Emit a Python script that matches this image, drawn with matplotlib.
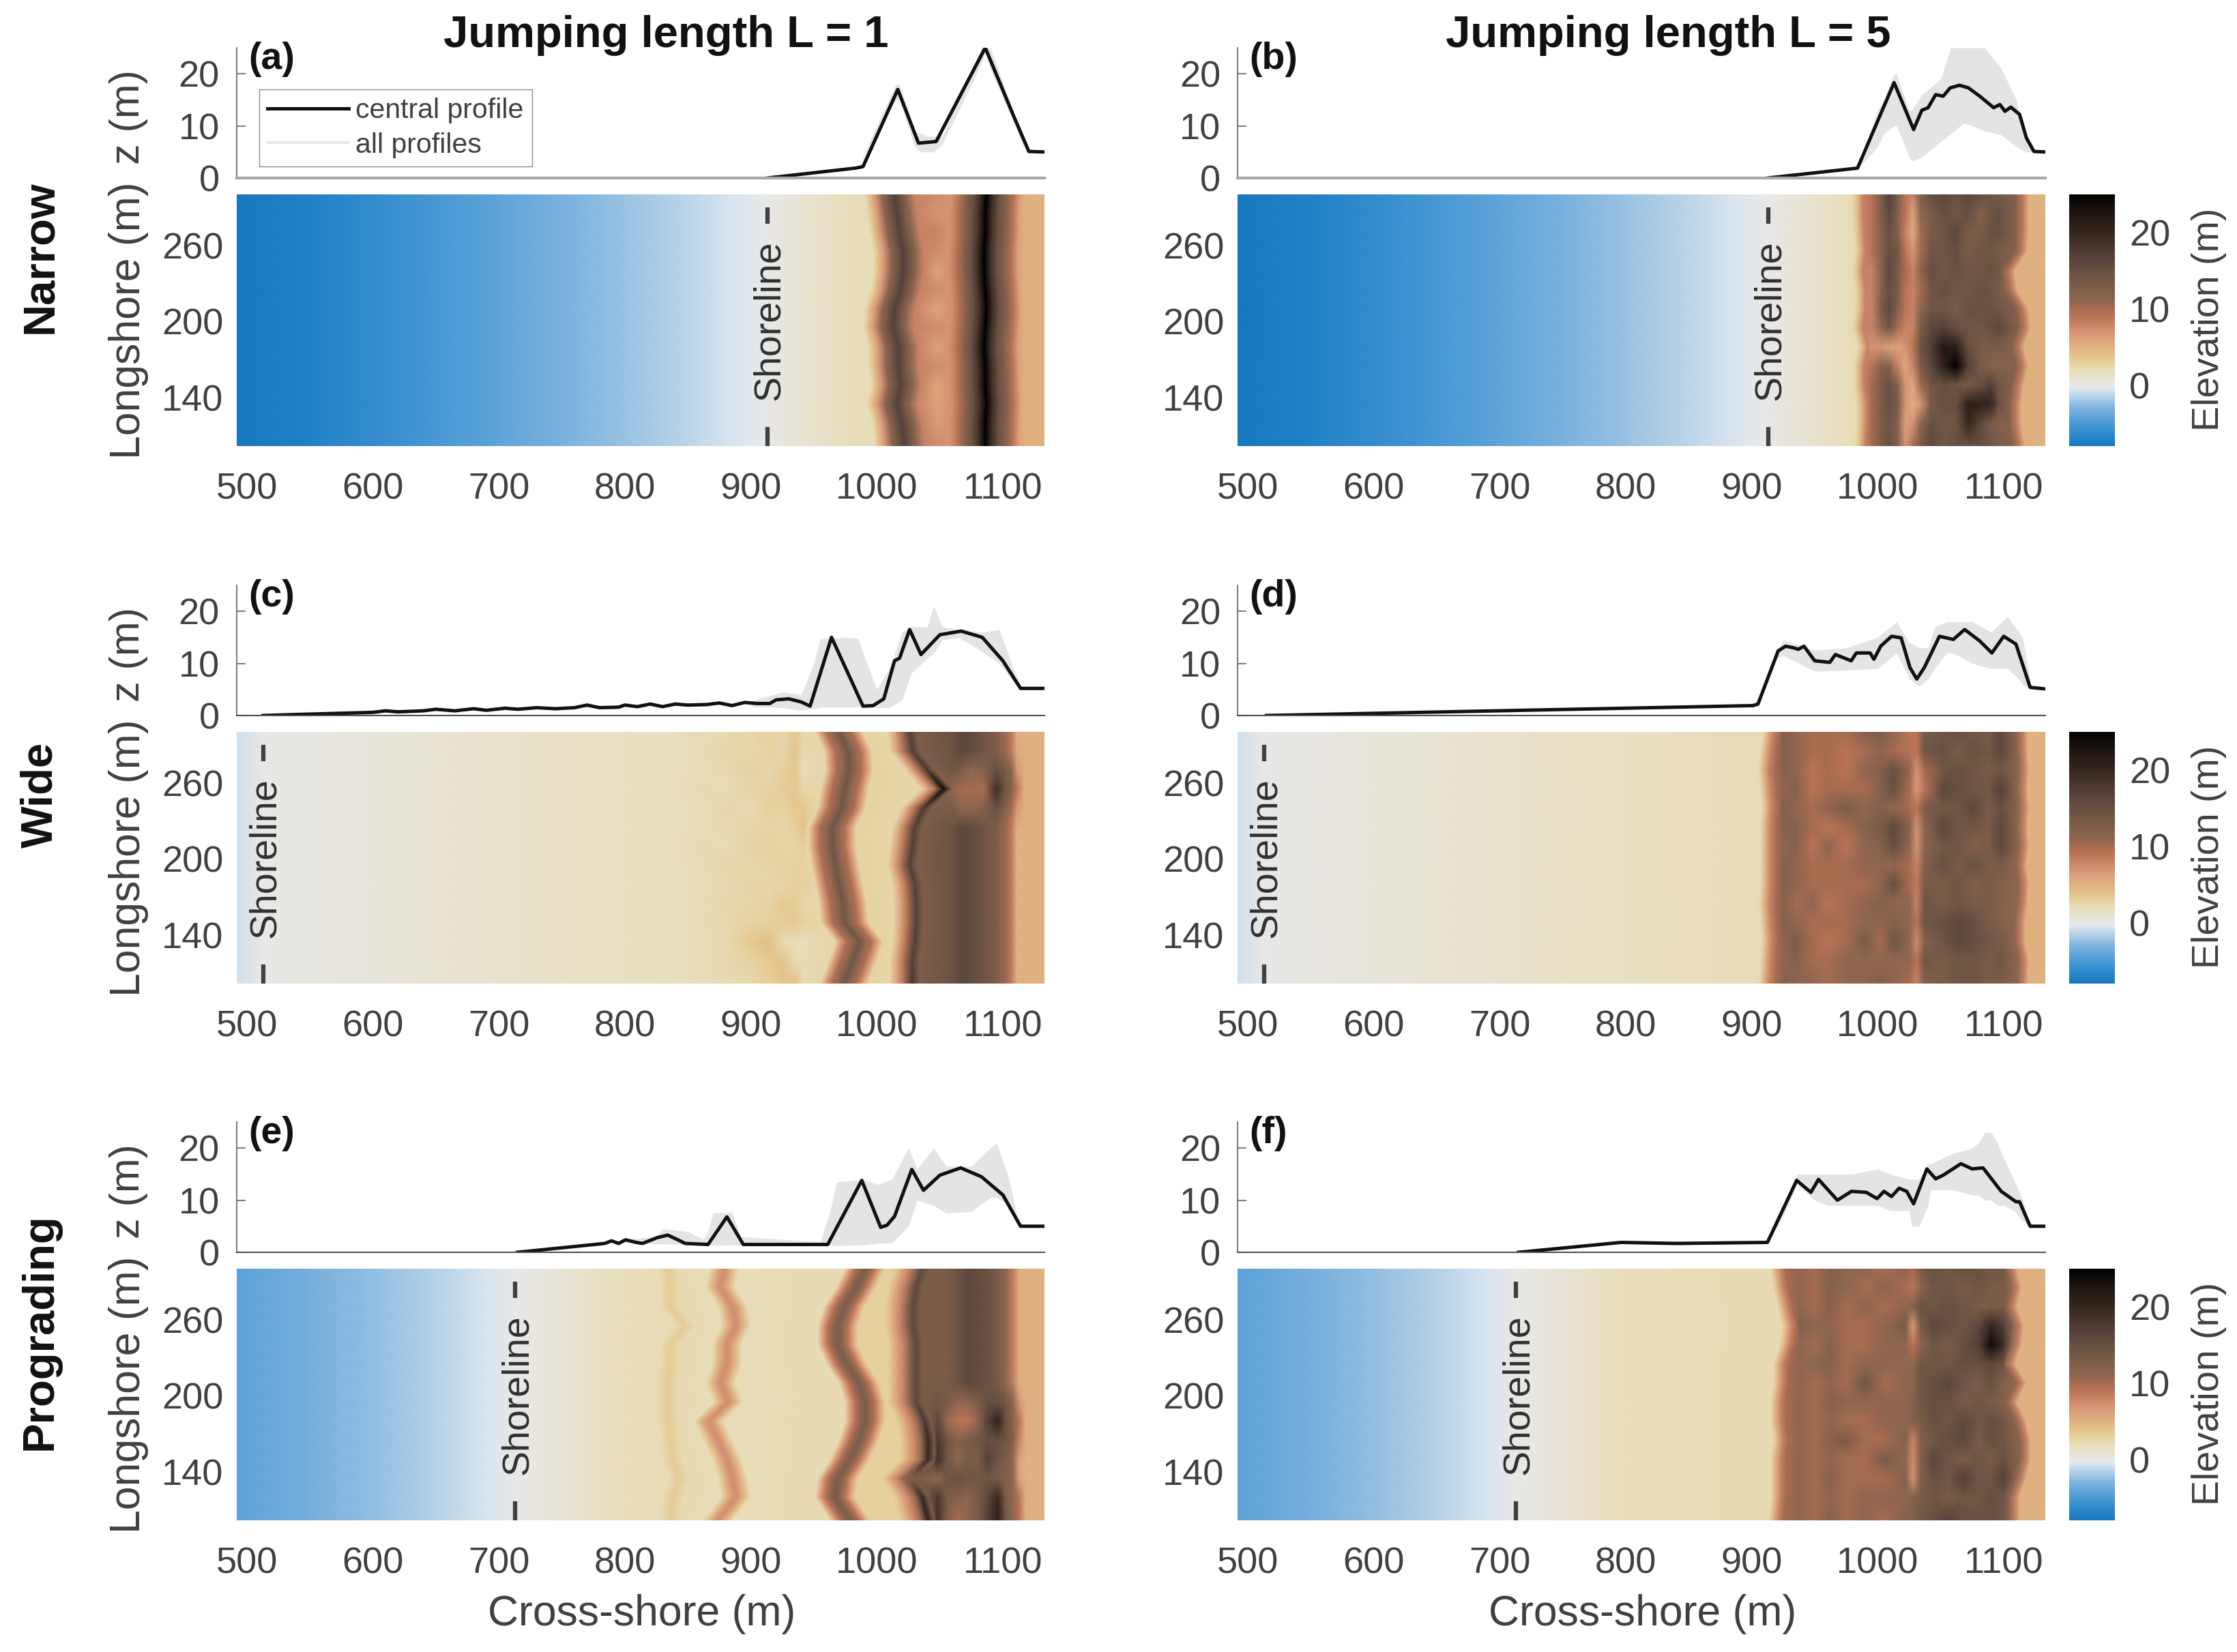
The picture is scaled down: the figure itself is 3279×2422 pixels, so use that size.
import numpy as np
import matplotlib
matplotlib.use("Agg")
import matplotlib.pyplot as plt
from matplotlib.colors import LinearSegmentedColormap, Normalize

plt.rcParams['font.family'] = ['Liberation Sans', 'DejaVu Sans']

W, H = 3280, 2422

# colour scale
cb_z = [-8, -7, -5, -3, -2, -1, -0.5, 0, 1, 2, 3.5, 5, 6, 7, 9, 10, 11, 13, 15, 17, 20, 23, 25]
cb_c = ['#1878BE', '#2484C8', '#4C9AD6', '#80B4DE', '#A6C9E4', '#C8DCEC', '#E0E8F0', '#E8E8E8',
        '#E8E2CC', '#E8DDB8', '#E5C98E', '#DFB080', '#DCA27C', '#D49474', '#BA7356', '#A66C50',
        '#8F6650', '#7A5C48', '#675042', '#54403A', '#35261E', '#1A120E', '#000000']

longshore = [300, 285, 270, 255, 240, 225, 210, 195, 180, 165, 150, 135, 120, 102]

# central profiles and grey envelope of all profiles
a_px = [913, 983, 989, 1016.6, 1033, 1047, 1086, 1108, 1120.6, 1133]
a_pz = [0, 1.9, 2.2, 17, 6.7, 7, 25, 12.2, 5.1, 5]
a_bx = [985, 1015, 1018, 1030, 1035, 1040, 1045, 1052, 1083, 1086, 1090, 1108, 1118]
a_lo = [2, 15, 15, 6, 5, 5, 5, 6.5, 22, 24, 21, 11, 5]
a_hi = [2, 18, 18, 9, 8.5, 8, 8, 8, 25, 25, 25, 13, 5.2]

b_px = [912.5, 984, 1013, 1028.5, 1035, 1040, 1046, 1052, 1057.5, 1065, 1072, 1081, 1092, 1097, 1101, 1105.6, 1112.6, 1118, 1124, 1133]
b_pz = [0, 1.9, 18.3, 9.3, 13, 13.5, 16, 15.7, 17.3, 17.8, 17.3, 15.7, 13.5, 14.1, 12.8, 13.6, 12.2, 7.7, 5.1, 5]
b_bx = [985, 1000, 1005, 1013, 1015, 1025, 1027, 1035, 1045, 1050, 1058, 1068, 1075, 1085, 1098, 1110, 1118, 1125]
b_lo = [2, 6, 8.5, 10, 10, 4, 3.2, 4, 6, 7, 8.5, 10.5, 10, 9, 8.3, 6, 5, 5]
b_hi = [2, 13, 15, 20, 20, 13, 13, 16, 18, 19, 25, 25, 25, 25, 21, 15, 8, 5.3]

c_px = [513, 540, 570, 600, 610, 620, 640, 650, 665, 680, 690, 705, 715, 730, 745, 760, 770, 780, 795, 800,
        810, 820, 830, 840, 850, 865, 875, 885, 895, 905, 915, 920, 930, 940, 947, 964, 989, 997, 1005.5,
        1014, 1018, 1026, 1035, 1050, 1067, 1083.6, 1100, 1114, 1133]
c_pz = [0, 0.2, 0.4, 0.6, 0.9, 0.7, 0.9, 1.2, 0.9, 1.3, 1, 1.4, 1.2, 1.5, 1.3, 1.5, 2, 1.5, 1.6, 2,
        1.7, 2.2, 1.7, 2.2, 2, 2.1, 2.4, 1.9, 2.5, 2.3, 2.3, 3, 3.2, 2.6, 1.8, 15, 1.8, 1.9, 3.2,
        10.5, 11, 16.5, 11.7, 15.5, 16.2, 15, 10.5, 5.2, 5.2]
c_bx = [900, 925, 940, 950, 955, 975, 985, 992, 1000, 1010, 1020, 1027, 1040, 1045, 1052, 1065, 1085, 1097, 1110, 1115]
c_lo = [1.7, 1.5, 1, 1.3, 1.6, 1.6, 1.6, 1.5, 1.5, 1.5, 3, 8, 11, 12, 14.5, 15, 12, 10, 6, 5]
c_hi = [2.8, 4.5, 4, 10, 14.7, 15, 14.8, 10, 5, 9, 16, 17, 17, 21, 17, 16.5, 16, 16.5, 8, 5.3]

d_px = [515, 901, 905, 921, 927, 933, 937, 941.5, 950, 962, 966.4, 979, 983, 994, 997, 1002.4, 1011, 1018.6,
        1025.6, 1031, 1037, 1049, 1060, 1069, 1081, 1090.6, 1100, 1109.7, 1121, 1133]
d_pz = [0, 1.9, 2.2, 12.4, 13.3, 13, 12.7, 13.3, 10.5, 10.2, 11.7, 10.5, 12, 12, 10.8, 13.3, 15.2, 14.9,
        9.2, 7, 9.2, 15.2, 14.6, 16.5, 14.3, 12, 15.2, 13.7, 5.4, 5.1]
d_bx = [905, 920, 925, 950, 975, 1000, 1015, 1025, 1033, 1040, 1045, 1055, 1060, 1075, 1090, 1103, 1112, 1115, 1122]
d_lo = [1.8, 11, 11.5, 8.5, 8.7, 9, 12, 7, 5.6, 7, 9, 12, 12, 10, 9, 9, 7, 6, 5]
d_hi = [2.2, 12.5, 14.5, 12.5, 13, 15, 18, 14, 13, 13, 17, 18, 18, 18, 16, 19, 16, 15, 5.5]

e_px = [714.7, 784, 789.5, 795, 800.6, 809, 814, 825.5, 834, 842, 848, 866, 881, 894, 961, 988, 1003, 1008,
        1014, 1027.7, 1037, 1050, 1066.5, 1083, 1100, 1114, 1133]
e_pz = [0, 1.7, 2.2, 1.7, 2.4, 1.9, 1.7, 2.8, 3.3, 2.4, 1.7, 1.5, 6.8, 1.5, 1.5, 13.8, 4.8, 5.2,
        6.9, 15.9, 11.9, 14.8, 16.2, 14.5, 11, 5, 5]
e_bx = [800, 825, 830, 850, 862, 866, 870, 885, 892, 955, 963, 968, 990, 1000, 1012, 1025, 1032, 1045, 1055, 1075, 1090, 1095, 1105, 1112, 1117]
e_lo = [1.9, 1.6, 1.6, 1.5, 1.3, 1.3, 1.3, 1.4, 1.4, 1.3, 1.3, 1.3, 1.4, 1.7, 1.8, 5, 10, 9, 7.5, 7.8, 10.5, 10.5, 9, 5.5, 5]
e_hi = [2.5, 3, 4.5, 4, 2.5, 4, 7.5, 7.7, 3, 2, 8, 13.5, 14, 13, 14, 20, 16, 20, 16.5, 16.5, 20, 21, 14, 6, 5.2]

f_px = [715, 796.5, 840, 912.5, 935.7, 947, 953, 968, 979.2, 991, 999.5, 1005, 1011, 1017, 1023, 1028.5, 1039,
        1046, 1052, 1066, 1075, 1083.6, 1098, 1109.7, 1112.6, 1121, 1133]
f_pz = [0, 1.9, 1.7, 1.9, 13.8, 11.5, 14, 10, 11.7, 11.5, 10.3, 11.7, 10.7, 12.3, 11.7, 9.3, 16,
        14.1, 14.8, 17, 16, 16.2, 11.7, 9.7, 9.7, 5, 5]
f_bx = [913, 925, 936, 950, 960, 980, 1000, 1010, 1025, 1027, 1033, 1040, 1042, 1060, 1075, 1080, 1085, 1090, 1095, 1100, 1108, 1115, 1120, 1122]
f_lo = [1.9, 7, 13, 10, 9, 9, 9, 8, 8, 5, 5, 9, 12, 12, 11, 11, 10, 10, 9, 9, 8, 6, 5, 5]
f_hi = [1.9, 9, 15, 15, 15, 15, 16, 15, 14, 14, 14, 17, 17, 19, 20, 21, 23, 23, 21, 18, 14, 10, 6, 5.2]

# water and beach elevation, same over the whole longshore range
narrow_bx = [492, 550, 600, 650, 700, 750, 800, 850, 880, 900, 913, 930, 950, 975]
narrow_bz = [-8.3, -7.2, -6.2, -5.2, -4.2, -3.2, -2.3, -1.3, -0.7, -0.3, 0, 0.5, 1, 1.8]
wide_bx = [492, 513, 540, 600, 700, 800, 840]
wide_bz = [-0.8, 0, 0.2, 0.5, 1, 1.5, 1.7]
wide2_bx = [492, 513, 540, 600, 700, 800, 900]
wide2_bz = [-0.8, 0, 0.2, 0.5, 1, 1.5, 1.95]
prog_bx = [492, 550, 600, 650, 690, 713, 740, 770, 800]
prog_bz = [-4.3, -3.3, -2.5, -1.5, -0.6, 0, 0.5, 1.2, 1.9]

# (a) two crests, position per longshore row
a_crest1 = [1014, 1016, 1018, 1021, 1021, 1019, 1014, 1013, 1017, 1017, 1019, 1016, 1020, 1022]
a_crest2 = [1087, 1086, 1086, 1085, 1085, 1086, 1087, 1086, 1085, 1086, 1086, 1087, 1086, 1086]
a_mid = [[7.5], [7], [8], [7.5], [6], [7.5], [5.8], [7.5], [6], [7.5], [5.8], [6], [6.5], [7.5]]

# (b) dune field
b_toe = [984, 984, 985, 986, 984, 986, 986, 984, 988, 985, 985, 987, 987, 986]
b_cols = [995, 1003, 1009, 1016, 1022, 1028, 1034, 1042, 1052, 1062, 1072, 1082, 1090, 1096]
b_field = [[9, 13, 17, 13, 9, 8, 12, 15, 16, 15, 16, 15, 14, 14],
           [9, 13, 16, 12, 9, 6, 11, 13, 15, 14, 15, 12, 14, 15],
           [9, 12, 15, 12, 8, 5.5, 10, 13, 14, 16, 13, 13, 15, 15],
           [9, 12, 15, 14, 9, 7, 10, 14, 14, 15, 13, 14, 14, 13],
           [8, 12, 16, 13, 10, 8, 11, 15, 14, 15, 14, 14, 15, 14],
           [8, 12, 15, 13, 9, 8, 10, 14, 15, 14, 14, 15, 14, 13],
           [8, 13, 16, 12, 9, 8, 11, 14, 14, 13, 15, 15, 15, 14],
           [8, 11, 14, 10, 8, 8, 13, 16, 17, 15, 14, 14, 15, 16],
           [7, 7, 6, 6, 7, 9, 14, 17, 22, 21, 15, 13, 13, 13],
           [9, 12, 12, 8, 5.5, 8, 13, 16, 21, 25, 17, 13, 12, 12],
           [10, 13, 15, 12, 7, 5.5, 10, 14, 15, 14, 13, 15, 17, 14],
           [10, 13, 15, 13, 7, 5, 7, 13, 15, 15, 21, 21, 20, 15],
           [10, 13, 14, 12, 6, 7, 11, 15, 14, 14, 20, 16, 13, 12],
           [10, 13, 15, 12, 7, 10, 13, 16, 14, 15, 15, 15, 14, 13]]
b_back = [1119.6, 1119.6, 1119.6, 1118.7, 1108.8, 1110.6, 1119.6, 1121.4, 1116, 1119.6, 1116, 1114, 1114, 1117]

# (c) fore field wisps, two ridges, rear dune with the blowout
c_wisp_cols = [860, 880, 900, 915, 925, 935, 942]
c_wisp = [[2, 2.2, 2.5, 3, 2.5, 3.5, 2.5],
          [2, 2.5, 2.3, 2.8, 2.5, 3.8, 2.2],
          [2, 2.2, 2.8, 2.5, 3, 3.5, 2],
          [2.2, 2, 2.6, 2.8, 3.2, 3.6, 2.5],
          [2, 2.4, 2.2, 3, 2.8, 3.5, 3.5],
          [2, 2.2, 2.5, 2.6, 2.5, 3, 4],
          [2.2, 2, 2.7, 3, 2.6, 2.6, 3],
          [2, 2.5, 2.3, 2.6, 2.8, 3, 2.8],
          [2, 2.2, 2.6, 2.5, 2.6, 2.9, 3],
          [2, 2.4, 2.5, 2.8, 3.4, 3.2, 2.5],
          [2.1, 2.3, 2.7, 3, 3.2, 3.5, 2.8],
          [2, 2.2, 3.5, 4, 2.2, 2, 2],
          [2, 2.3, 2.8, 3.5, 3.8, 2.2, 2],
          [2, 2.2, 2.5, 3, 3.8, 4, 2.3]]
c_crest1 = [970, 977, 978, 974.5, 972, 964.5, 964.5, 967, 970, 973, 974.5, 986, 981, 974]
c_crest2 = [1026, 1028, 1040, 1053, 1037, 1030, 1028, 1026, 1030, 1031, 1031, 1030, 1028, 1028]
c_crest2_z = [17, 17, 18, 24, 18, 17, 17, 17, 17, 17, 17, 17, 17, 18]
c_rear_cols = [1060, 1067, 1075, 1085, 1095, 1102, 1107, 1111, 1117]
c_rear = [[14.5, 16, 15.5, 14, 12.5, 10.5, 8.5, 5, 5],
          [14.5, 16, 15.5, 14, 12.5, 10.5, 8.5, 5.5, 5],
          [14, 13, 11, 12, 15, 13, 11, 7, 5],
          [11, 10, 10, 10, 19, 14, 12, 9, 5],
          [13, 11, 11, 12, 15, 12, 10, 7, 5],
          [14.5, 16, 15.5, 14, 12.5, 10.5, 8.5, 5, 5],
          [14.5, 16, 15.5, 14, 12.5, 10.5, 8.5, 5, 5],
          [14.5, 16, 15.5, 14, 12.5, 10.5, 8.5, 5, 5],
          [14.5, 16, 15.5, 14, 12.5, 10.5, 8.5, 5, 5],
          [14.5, 16, 15.5, 14, 12.5, 10.5, 8.5, 5, 5],
          [14.5, 16, 15.5, 14, 12.5, 10.5, 8.5, 5, 5],
          [14.5, 16, 15.5, 14, 12.5, 10.5, 8.5, 5, 5],
          [14.5, 16, 15.5, 14, 12.5, 10.5, 8.5, 5, 5],
          [14.5, 16, 15.5, 14, 12.5, 10.5, 8.5, 5, 5]]

# (d) dune field
d_toe = [913, 911, 909.5, 911, 912, 911, 911, 911, 911, 910, 911, 912, 911, 910]
d_cols = [925, 935, 948, 960, 975, 990, 1002, 1013, 1025, 1031, 1037, 1052, 1064, 1076, 1088, 1098]
d_field = [[12, 11, 10, 10, 10, 12, 13, 11, 9, 9, 13, 14, 15, 14, 13, 16],
           [12, 11, 10, 10, 9, 10, 11, 10, 9, 9, 14, 15, 13, 15, 14, 16],
           [12, 11, 9, 10, 9, 11, 12, 15, 11, 7, 10, 14, 15, 14, 13, 14],
           [11, 12, 9, 10, 10, 10, 12, 15, 10, 6.5, 9, 16, 15, 14, 14, 17],
           [12, 11, 10, 11, 13, 11, 12, 11, 10, 9, 13, 14, 14, 16, 13, 15],
           [12, 12, 10, 9, 10, 12, 13, 16, 12, 7, 11, 16, 14, 14, 13, 16],
           [11, 12, 9, 11, 9, 11, 12, 15, 11, 7, 11, 14, 14, 12, 13, 16],
           [12, 11, 10, 10, 10, 11, 11, 11, 10, 8, 12, 15, 13, 15, 13, 13],
           [12, 11, 10, 10, 10, 10, 11, 15, 10, 8.5, 13, 13, 14, 12, 13, 12],
           [12, 10, 11, 9, 10, 11, 12, 11, 11, 8, 14, 13, 14, 13, 13, 12],
           [12, 11, 10, 10, 10, 11, 11, 12, 11, 9, 14, 15, 16, 15, 13, 12],
           [11, 13, 10, 9, 10, 13, 10, 14, 11, 7.5, 12, 14, 16, 15, 14, 13],
           [11, 12, 10, 10, 11, 11, 11, 11, 11, 9, 14, 13, 14, 14, 13, 14],
           [12, 11, 11, 10, 11, 11, 12, 11, 10, 8, 12, 13, 14, 14, 13, 13]]
d_back = [1119, 1119, 1120, 1119, 1120, 1119, 1120, 1118, 1120, 1119, 1117, 1117, 1120, 1119]

# (e) pale band, small ridge, two main ridges, rear dune
e_pale = [834.5, 835.7, 835.7, 847.6, 835.7, 835.7, 833.3, 834.5, 834.5, 835.7, 838, 842.8, 838, 835.7]
e_small = [878.6, 876, 885.7, 888, 881, 881, 876, 882, 866.7, 873.8, 881, 885.7, 888, 873.8]
e_crest1 = [990.6, 983.4, 974, 969, 969, 976, 985.8, 990.6, 990.6, 985.8, 978.7, 969, 966.8, 978.7]
e_crest2 = [1035.9, 1031, 1028.7, 1028.7, 1031, 1031, 1031, 1031, 1038, 1040.6, 1040.6, 1026, 1035.9, 1040.6]
e_crest2_z = [16, 16, 16, 16, 16, 16, 16, 16, 18, 20, 20, 12, 20, 21]
e_rear_cols = [1048, 1056, 1064, 1072, 1080, 1088, 1096, 1102, 1108, 1113, 1118]
e_rear = [[13, 13, 14.5, 16, 15.5, 14.5, 13, 11, 8.5, 5, 5],
          [13, 13, 14.5, 16, 15.5, 14.5, 13, 11, 8.5, 5, 5],
          [13, 13, 14.5, 16, 15.5, 14.5, 13, 11, 8.5, 5, 5],
          [13, 13, 14.5, 16, 15.5, 14.5, 13, 11, 8.5, 5, 5],
          [13, 13, 14.5, 16, 15.5, 14.5, 13, 11, 8.5, 5, 5],
          [13, 13, 14.5, 16, 15.5, 14.5, 13, 11, 8.5, 5, 5],
          [13, 13, 14.5, 16, 15.5, 14.5, 13.5, 11, 8.5, 5, 5],
          [14, 13, 11, 11, 13, 15, 15, 14, 11, 7, 5],
          [16, 10.5, 9, 9, 11, 17, 21, 15, 12, 9, 5],
          [18, 14, 12, 13, 14, 15, 15, 14, 12, 8, 5],
          [19, 14, 11, 13, 13, 17, 14, 13, 11, 6, 5],
          [11, 14, 15, 14, 14, 14, 13, 12, 11, 6, 5],
          [18, 13, 12, 11, 13, 16, 20, 13, 11, 9, 5],
          [19, 12, 10, 11, 13, 17, 21, 14, 11, 9, 5]]

# (f) dune field
f_toe = [919, 921, 924.6, 928, 926, 921, 921, 919, 919, 921, 919, 919, 919, 917.4]
f_cols = [938, 950, 962, 975, 990, 1005, 1022, 1028, 1034, 1044, 1056, 1068, 1080, 1090, 1100]
f_field = [[11, 10, 12, 11, 11, 10, 11, 10, 13, 15, 14, 15, 15, 14, 14],
           [11, 10, 12, 11, 10, 11, 10, 9, 11, 14, 14, 13, 14, 13, 13],
           [11, 10, 12, 10, 11, 10, 11, 12, 15, 14, 15, 14, 13, 13, 13],
           [12, 11, 11, 10, 10, 11, 13, 6.5, 13, 16, 15, 14, 16, 20, 17],
           [11, 10, 12, 10, 10, 11, 11, 9, 11, 14, 13, 15, 17, 24, 19],
           [11, 11, 12, 10, 11, 11, 11, 11, 14, 14, 14, 15, 15, 16, 14],
           [11, 10, 11, 10, 14, 10, 11, 11, 14, 15, 16, 14, 13, 15, 12],
           [11, 10, 12, 11, 11, 11, 11, 12, 14, 15, 15, 13, 14, 13, 12],
           [11, 10, 11, 10, 10, 11, 11, 12, 13, 15, 14, 16, 14, 15, 14],
           [11, 10, 12, 13, 10, 10, 12, 8, 12, 14, 15, 16, 13, 15, 14],
           [11, 10, 11, 10, 10, 13, 11, 7.5, 12, 16, 14, 13, 14, 13, 15],
           [11, 10, 12, 10, 10, 10, 12, 7, 12, 15, 14, 17, 14, 14, 17],
           [11, 10, 11, 10, 11, 11, 11, 12, 13, 14, 13, 14, 14, 15, 14],
           [11, 10, 12, 10, 11, 10, 12, 12, 14, 15, 17, 15, 15, 15, 14]]
f_back = [1110.6, 1114.2, 1110.6, 1116, 1114.2, 1109, 1117.8, 1110.6, 1117.8, 1121.4, 1121.4, 1117.8, 1112.4, 1112.4]

shore_x = [913, 913, 513, 513, 713, 713]
panel_names = ['(a)', '(b)', '(c)', '(d)', '(e)', '(f)']
row_names = ['Narrow', 'Wide', 'Prograding']
col_names = ['Jumping length L = 1', 'Jumping length L = 5']
x_ticks = [500, 600, 700, 800, 900, 1000, 1100]
y_ticks = [140, 200, 260]
z_ticks = [0, 10, 20]

nrow = len(longshore)
cmap = LinearSegmentedColormap.from_list('beach', [((z + 8) / 33.0, c) for z, c in zip(cb_z, cb_c)], N=512)
norm = Normalize(-8, 25)


def fixed(cols, z):
    # columns at one cross-shore position in every row
    xs = np.tile(np.array(cols, float), (nrow, 1))
    zs = np.broadcast_to(np.array(z, float), xs.shape)
    return xs, zs


def moving(pos, dx, z):
    # columns following a line that moves from row to row
    xs = np.add.outer(np.array(pos, float), np.array(dx, float))
    zs = np.broadcast_to(np.array(z, float), xs.shape)
    return xs, zs


def field(parts):
    X = np.hstack([p[0] for p in parts])
    Z = np.hstack([p[1] for p in parts])
    assert np.all(np.diff(X, axis=1) > 0)
    Y = np.tile(np.array(longshore, float)[:, None], (1, X.shape[1]))
    return X, Y, Z


end = fixed([1133], 5)

fields = [
    field([fixed(narrow_bx, narrow_bz),
           moving(a_crest1, [-24, -20, -15, -10, -5, 0, 5, 10, 16], [2, 4, 7, 11, 14, 17, 14, 11, 8]),
           fixed([1047], a_mid),
           moving(a_crest2, [-28, -22, -16, -10, -5, 0, 5, 10, 16, 22, 27, 31], [7, 9, 12, 15, 19, 25, 19, 15, 12, 9, 6, 5]),
           end]),
    field([fixed(narrow_bx, narrow_bz), moving(b_toe, [-4, 0, 4], [2.2, 4.5, 8]),
           fixed(b_cols, b_field), moving(b_back, [-10, -4, 0], [12, 8.5, 5]), end]),
    field([fixed(wide_bx, wide_bz), fixed(c_wisp_cols, c_wisp),
           moving(c_crest1, [-19, -15, -10, -5, 0, 5, 10, 15, 19], [2.5, 6, 9.5, 11, 14, 11, 9.5, 6, 2.8]),
           moving(c_crest2, [-18, -12, -6], [2.5, 6, 10]),
           moving(c_crest2, [0], np.array(c_crest2_z)[:, None]),
           moving(c_crest2, [6], [12.5]),
           fixed(c_rear_cols, c_rear), end]),
    field([fixed(wide2_bx, wide2_bz), moving(d_toe, [-4, 0, 4, 9], [2.2, 5, 8, 10]),
           fixed(d_cols, d_field), moving(d_back, [-8, -3, 0], [11, 8, 5]), end]),
    field([fixed(prog_bx, prog_bz), moving(e_pale, [-8, 0, 8], [2.1, 3.3, 2.2]),
           moving(e_small, [-12, -7, -3, 0, 3, 7, 12], [2, 4.5, 6.5, 7.3, 6.5, 4.5, 2]),
           moving(e_crest1, [-16, -12, -8, -4, 0, 4, 8, 12, 16], [2.2, 6, 9, 11, 13, 11, 9, 6, 3]),
           moving(e_crest2, [-22, -16, -10, -5], [3, 5.5, 8, 11]),
           moving(e_crest2, [0], np.array(e_crest2_z)[:, None]),
           moving(e_crest2, [5], [13]),
           fixed(e_rear_cols, e_rear), end]),
    field([fixed(prog_bx, prog_bz), moving(f_toe, [-4, 0, 4, 8], [2.2, 5, 8, 10]),
           fixed(f_cols, f_field), moving(f_back, [-8, -3, 0], [11, 8, 5]), end]),
]

profiles = [(a_px, a_pz, a_bx, a_lo, a_hi), (b_px, b_pz, b_bx, b_lo, b_hi), (c_px, c_pz, c_bx, c_lo, c_hi),
            (d_px, d_pz, d_bx, d_lo, d_hi), (e_px, e_pz, e_bx, e_lo, e_hi), (f_px, f_pz, f_bx, f_lo, f_hi)]

heat_top = [285, 1073, 1860]
col_left = [347, 1814]
ax_w = 1184
heat_h = 369
prof_h = 191
tick_col = '#404040'

fig = plt.figure(figsize=(W / 100, H / 100), dpi=100)


def box(left, top, w, h):
    return fig.add_axes([left / W, 1 - (top + h) / H, w / W, h / H])


for i in range(6):
    r, c = i // 2, i % 2
    top = heat_top[r]

    # elevation map
    ax = box(col_left[c], top, ax_w, heat_h)
    X, Y, Z = fields[i]
    mesh = ax.pcolormesh(X, Y, Z, shading='gouraud', cmap=cmap, norm=norm)
    ax.set_xlim(492, 1133)
    ax.set_ylim(102, 300)
    ax.set_xticks(x_ticks)
    ax.set_yticks(y_ticks)
    ax.tick_params(axis='x', length=0, pad=28, labelsize=39, labelcolor=tick_col)
    ax.tick_params(axis='y', length=0, pad=14, labelsize=39, labelcolor=tick_col)
    for s in ax.spines.values():
        s.set_visible(False)
    ax.plot([shore_x[i], shore_x[i]], [290, 277], color='#404040', lw=4.5, solid_capstyle='butt')
    ax.plot([shore_x[i], shore_x[i]], [117, 102], color='#404040', lw=4.5, solid_capstyle='butt')
    ax.text(shore_x[i] + 2, 201, 'Shoreline', rotation=90, ha='center', va='center', fontsize=40, color='#303030')

    # profile above the map
    pax = box(col_left[c], top - 24 - prof_h, ax_w, prof_h)
    px, pz, bx, lo, hi = profiles[i]
    pax.fill_between(bx, lo, hi, color='#E4E4E4', lw=0)
    line, = pax.plot(px, pz, color='#111111', lw=3.6, solid_joinstyle='round')
    pax.set_xlim(492, 1133)
    pax.set_ylim(0, 25)
    pax.set_xticks([])
    pax.set_yticks(z_ticks)
    pax.tick_params(axis='y', direction='in', length=9, width=1.5, color='#808080', pad=18,
                    labelsize=39, labelcolor=tick_col)
    pax.spines['top'].set_visible(False)
    pax.spines['right'].set_visible(False)
    pax.spines['left'].set_color('#606060')
    pax.spines['left'].set_linewidth(1.2)
    pax.spines['bottom'].set_color('#a8a8a8' if r == 0 else '#505050')
    pax.spines['bottom'].set_linewidth(3 if r == 0 else 1.5)
    pax.patch.set_alpha(0)
    fig.text((col_left[c] + 17) / W, 1 - (top - 198) / H, panel_names[i], fontsize=40, fontweight='bold',
             ha='left', va='center', color='#111111')

    if i == 0:
        gray, = pax.plot([], [], color='#E8E8E8', lw=3)
        pax.legend([line, gray], ['central profile', 'all profiles'], loc='upper left',
                   bbox_to_anchor=(380 / W, 1 - 131 / H), bbox_transform=fig.transFigure, borderaxespad=0,
                   fontsize=29.5, frameon=True, fancybox=False, framealpha=1, edgecolor='#8c8c8c',
                   handlelength=2.9, handletextpad=0.25, labelspacing=0.3, borderpad=0.3,
                   labelcolor=tick_col)

    # colorbar on the right column only
    if c == 1:
        cax = box(3033, top, 67, heat_h)
        cb = fig.colorbar(mesh, cax=cax, ticks=z_ticks)
        cb.outline.set_visible(False)
        cax.tick_params(length=0, pad=15, labelsize=39, labelcolor=tick_col)
        fig.text(3238 / W, 1 - (top + 183) / H, 'Elevation (m)', rotation=90, ha='center', va='center',
                 fontsize=40, color=tick_col)

    # left labels
    if c == 0:
        fig.text(189 / W, 1 - (top + 185) / H, 'Longshore (m)', rotation=90, ha='center', va='center',
                 fontsize=45, color=tick_col)
        fig.text(189 / W, 1 - (top - 113) / H, 'z (m)', rotation=90, ha='center', va='center',
                 fontsize=44, color=tick_col)
        fig.text(59 / W, 1 - (top + 92) / H, row_names[r], rotation=90, ha='center', va='center',
                 fontsize=47, fontweight='bold', color='#111111')

    if r == 2:
        fig.text((col_left[c] + 594) / W, 1 - 2366 / H, 'Cross-shore (m)', ha='center', va='center',
                 fontsize=45, color=tick_col)

fig.text(976 / W, 1 - 52 / H, col_names[0], ha='center', va='center', fontsize=47, fontweight='bold', color='#111111')
fig.text(2445 / W, 1 - 52 / H, col_names[1], ha='center', va='center', fontsize=47, fontweight='bold', color='#111111')

fig.savefig('out.png', dpi=100)
